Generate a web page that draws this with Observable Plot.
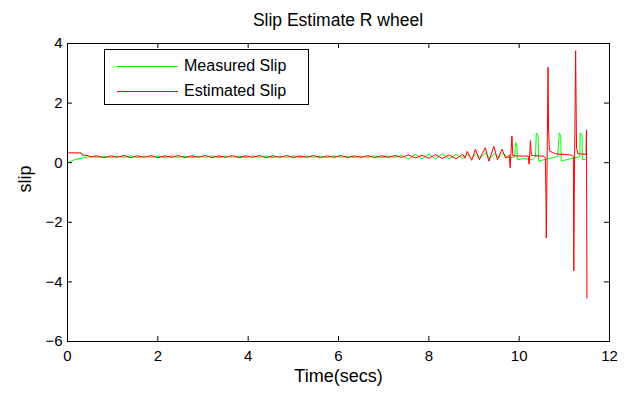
<!DOCTYPE html>
<html><head><meta charset="utf-8">
<script src="https://cdn.jsdelivr.net/npm/d3@7"></script>
<script src="https://cdn.jsdelivr.net/npm/@observablehq/plot@0.6"></script>
<style>
body{margin:0;background:#fff;font-family:"Liberation Sans",Arial,sans-serif;color:#000;}
#wrap{position:relative;width:633px;height:396px;overflow:hidden;}
#title{width:542px;padding-left:67px;text-align:center;font-size:17.5px;line-height:18px;padding-top:11px;box-sizing:content-box;height:17px;}
#legend{position:absolute;left:104px;top:49px;width:205px;height:56px;border:1px solid #000;background:#fff;box-sizing:border-box;}
.lrow{position:absolute;left:0;height:20px;width:100%;}
.lline{position:absolute;left:12px;width:61px;height:1px;top:10px;}
.ltext{position:absolute;left:79px;top:0;font-size:16px;line-height:20px;white-space:nowrap;}
</style></head>
<body>
<div id="wrap">
<div id="title">Slip Estimate R wheel</div>
<div id="chart"></div>
<div id="legend"></div>
</div>
<script>
const seriesNames = ["Measured Slip", "Estimated Slip"];
const seriesColors = ["#00ff00", "#ff0000"];
const xTicks = [0, 2, 4, 6, 8, 10, 12];
const yTicks = [-6, -4, -2, 0, 2, 4];

// shared oscillation time grid (0.5 s to 8.75 s)
const baseTime = [0.5,0.65,0.8,0.95,1.1,1.25,1.4,1.55,1.7,1.85,2.0,2.15,2.3,2.45,2.6,2.75,2.9,3.05,3.2,3.35,3.5,3.65,3.8,3.95,4.1,4.25,4.4,4.55,4.7,4.85,5.0,5.15,5.3,5.45,5.6,5.75,5.9,6.05,6.2,6.35,6.5,6.65,6.8,6.95,7.1,7.25,7.4,
  7.55,7.7,7.85,8.0,8.15,8.3,8.45,8.6,8.75];

const measuredHeadT = [0, 0.05, 0.15, 0.3];
const measuredHeadV = [0.0, 0.03, 0.1, 0.15];
const measuredBaseV = [0.21,0.18,0.22,0.17,0.22,0.18,0.23,0.17,0.22,0.18,0.22,0.17,0.23,0.18,0.22,0.17,0.22,0.18,0.23,0.17,0.22,0.18,0.22,0.17,0.23,0.18,0.22,0.17,0.22,0.18,0.23,0.17,0.22,0.18,0.22,0.17,0.23,0.18,0.22,0.17,0.22,0.18,0.23,0.17,0.22,0.18,0.24,
  0.12,0.28,0.13,0.29,0.12,0.3,0.13,0.28,0.14];
const measuredMidT = [8.85,8.95,9.05,9.15,9.25,9.35,9.45,9.55,9.65,9.72];
const measuredMidV = [0.28,0.15,0.3,0.16,0.33,0.14,0.3,0.17,0.32,0.2];
const measuredTailT = [9.8,9.9,9.92,9.95,9.96,10.1,10.3,10.36,10.38,10.42,10.43,10.6,10.85,10.89,10.92,10.93,11.2,11.34,11.35,11.39,11.4,11.48];
const measuredTailV = [0.15,0.2,0.68,0.6,0.1,0.14,0.1,0.2,1.0,0.9,0.05,0.12,0.2,1.0,0.88,0.06,0.15,0.2,1.0,0.95,0.1,0.12];

const estimatedHeadT = [0, 0.001, 0.3, 0.32, 0.45];
const estimatedHeadV = [1.3, 0.33, 0.33, 0.26, 0.24];
const estimatedBaseV = [0.19,0.23,0.17,0.23,0.18,0.24,0.17,0.23,0.18,0.24,0.17,0.23,0.18,0.24,0.17,0.23,0.18,0.24,0.17,0.23,0.18,0.24,0.17,0.23,0.18,0.24,0.17,0.23,0.18,0.24,0.17,0.23,0.18,0.24,0.17,0.23,0.18,0.24,0.17,0.23,0.18,0.24,0.17,0.23,0.18,0.24,0.18,
  0.26,0.16,0.25,0.15,0.27,0.14,0.26,0.13,0.28];
const estimatedMidT = [8.8,8.85,8.95,9.03,9.12,9.18,9.25,9.33,9.44,9.52,9.62,9.7];
const estimatedMidV = [0.15,0.38,0.08,0.45,0.1,0.3,0.5,0.05,0.55,0.1,0.45,0.15];
const estimatedTailT = [9.78,9.8,9.84,9.86,10.2,10.22,10.25,10.27,10.55,10.58,10.595,10.6,10.61,10.64,10.65,10.67,10.8,11.15,11.2,11.21,11.22,11.25,11.27,11.3,11.48,11.49,11.5];
const estimatedTailV = [0.25,-0.17,0.9,0.23,0.22,-0.05,0.74,0.24,0.22,0.15,-1.4,-2.53,-1.3,3.2,1.2,0.4,0.3,0.26,0.2,-3.63,-1.1,3.76,0.5,0.3,0.28,1.1,-4.54];

function build(name, hT, hV, bV, mT, mV, tT, tV) {
  const t = [...hT, ...baseTime, ...mT, ...tT];
  const v = [...hV, ...bV, ...mV, ...tV];
  return t.map((x, i) => ({series: name, t: x, v: v[i]}));
}
const measured = build(seriesNames[0], measuredHeadT, measuredHeadV, measuredBaseV, measuredMidT, measuredMidV, measuredTailT, measuredTailV);
const estimated = build(seriesNames[1], estimatedHeadT, estimatedHeadV, estimatedBaseV, estimatedMidT, estimatedMidV, estimatedTailT, estimatedTailV);

const W = 633, H = 368, ML = 67, MR = 24, MT = 15, MB = 55, TICK = 5;
const innerW = W - ML - MR, innerH = H - MT - MB;

const chart = Plot.plot({
  width: W,
  height: H,
  marginLeft: ML,
  marginRight: MR,
  marginTop: MT,
  marginBottom: MB,
  style: {fontFamily: '"Liberation Sans", Arial, sans-serif', color: "#000", background: "#fff", overflow: "visible"},
  x: {domain: [0, 12]},
  y: {domain: [-6, 4]},
  marks: [
    Plot.line(measured, {x: "t", y: "v", stroke: seriesColors[0], strokeWidth: 1}),
    Plot.line(estimated, {x: "t", y: "v", stroke: seriesColors[1], strokeWidth: 1}),
    Plot.frame({stroke: "#000", strokeWidth: 1}),
    Plot.tickX(xTicks, {x: d => d, stroke: "#000", insetTop: innerH - TICK}),
    Plot.tickX(xTicks, {x: d => d, stroke: "#000", insetBottom: innerH - TICK}),
    Plot.tickY(yTicks, {y: d => d, stroke: "#000", insetRight: innerW - TICK}),
    Plot.tickY(yTicks, {y: d => d, stroke: "#000", insetLeft: innerW - TICK}),
    Plot.axisX(xTicks, {anchor: "bottom", tickSize: 0, tickPadding: 9, fontSize: 15, label: null}),
    Plot.axisY(yTicks, {anchor: "left", tickSize: 0, tickPadding: 5, fontSize: 15, label: null}),
    Plot.text(["Time(secs)"], {text: d => d, frameAnchor: "bottom", dy: 40, fontSize: 18}),
    Plot.text(["slip"], {text: d => d, frameAnchor: "left", dx: -42, rotate: -90, fontSize: 18})
  ]
});
document.getElementById("chart").appendChild(chart);

const legend = document.getElementById("legend");
seriesNames.forEach((name, i) => {
  const row = document.createElement("div");
  row.className = "lrow";
  row.style.top = (6 + i * 25) + "px";
  row.innerHTML = `<div class="lline" style="background:${seriesColors[i]}"></div><div class="ltext">${name}</div>`;
  legend.appendChild(row);
});
</script>
</body></html>
